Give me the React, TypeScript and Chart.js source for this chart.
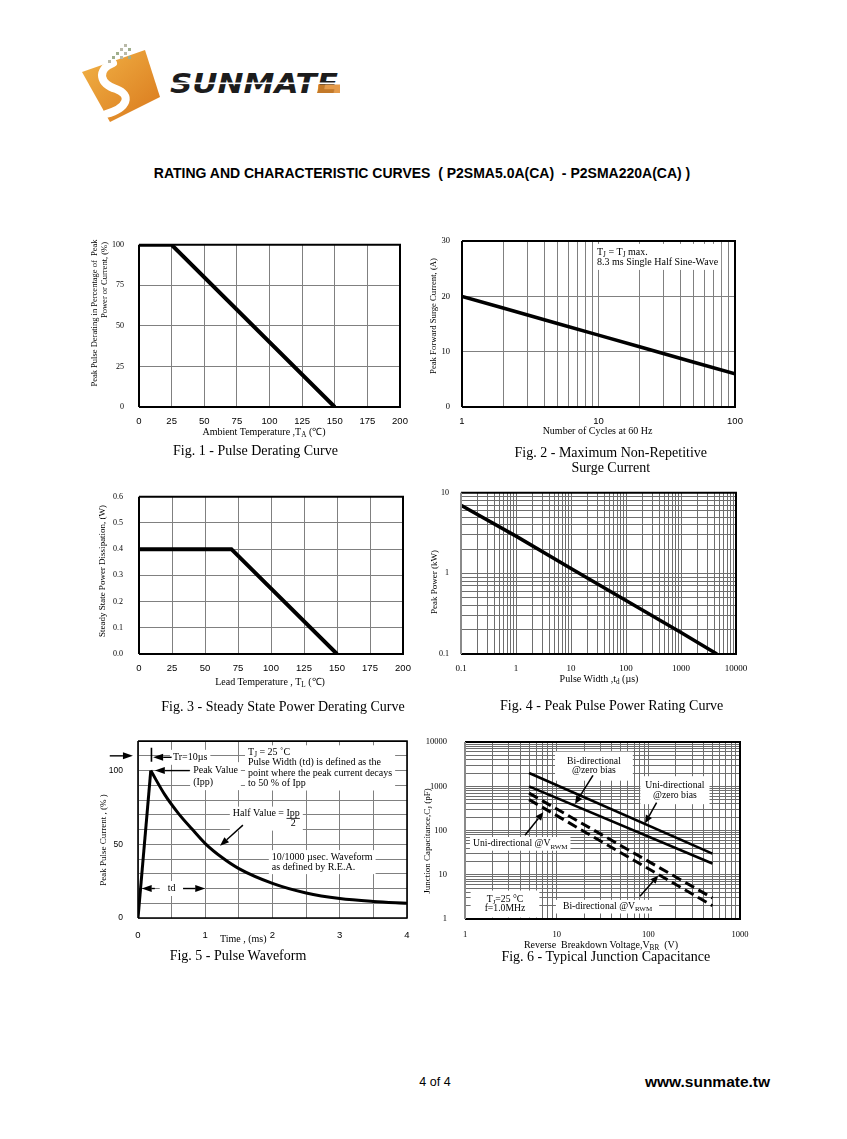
import React, { useEffect, useRef } from 'react';
import { Chart, registerables } from 'chart.js';

Chart.register(...registerables);

const SERIF = '"Liberation Serif", "Times New Roman", serif';
const SANS = '"Liberation Sans", Arial, sans-serif';

// ---------- Fig. 1 - Pulse Derating Curve ----------
const fig1Temperature = [0, 25, 150];
const fig1Derating = [100, 100, 0];
const fig1XLabels = ['0', '25', '50', '75', '100', '125', '150', '175', '200'];
const fig1YLabels = ['0', '25', '50', '75', '100'];

// ---------- Fig. 2 - Max Non-Repetitive Surge Current ----------
const fig2Cycles = [1, 2, 5, 10, 20, 50, 100];
const fig2SurgeCurrent = [20, 17.9, 15.1, 13, 10.9, 8.1, 6];
const fig2XLabels = ['1', '10', '100'];
const fig2YLabels = ['0', '10', '20', '30'];

// ---------- Fig. 3 - Steady State Power Derating ----------
const fig3LeadTemperature = [0, 70, 150];
const fig3PowerDissipation = [0.4, 0.4, 0];
const fig3XLabels = ['0', '25', '50', '75', '100', '125', '150', '175', '200'];
const fig3YLabels = ['0.0', '0.1', '0.2', '0.3', '0.4', '0.5', '0.6'];

// ---------- Fig. 4 - Peak Pulse Power Rating ----------
const fig4PulseWidth = [0.1, 1, 10, 100, 1000, 4500];
const fig4PeakPower = [7, 2.9, 1.15, 0.46, 0.185, 0.1];
const fig4XLabels = ['0.1', '1', '10', '100', '1000', '10000'];
const fig4YLabels = ['0.1', '1', '10'];

// ---------- Fig. 5 - Pulse Waveform ----------
const fig5Time = [0, 0.19, 0.4, 0.6, 0.8, 1, 1.25, 1.5, 2, 2.5, 3, 3.5, 4];
const fig5PulseCurrent = [0, 100, 83.5, 71, 60.5, 50.5, 41, 33.5, 23.5, 17, 13.2, 11.2, 10];
const fig5XLabels = ['0', '1', '2', '3', '4'];
const fig5YLabels = ['0', '50', '100'];

// ---------- Fig. 6 - Typical Junction Capacitance ----------
const fig6Voltage = [5, 500];
const fig6UniZeroBias = [2000, 30];
const fig6BiZeroBias = [1000, 18];
const fig6UniVrwm = [700, 3];
const fig6BiVrwm = [500, 2];
const fig6XLabels = ['1', '10', '100', '1000'];
const fig6YLabels = ['1', '10', '100', '1000', '10000'];

// ---------- layout constants ----------
const PAD_L = 48;
const PAD_T = 14;
const PAD_R = 28;
const PAD_B = 26;

function range(a: number, b: number, s: number): number[] {
  const n = Math.round((b - a) / s);
  return Array.from({ length: n + 1 }, (_, i) => +(a + i * s).toFixed(6));
}

function logGrid(min: number, max: number): number[] {
  const out: number[] = [];
  const e0 = Math.round(Math.log10(min));
  const e1 = Math.round(Math.log10(max));
  for (let e = e0; e < e1; e++) {
    for (let s = 1; s < 10; s++) out.push(parseFloat((s * Math.pow(10, e)).toPrecision(6)));
  }
  out.push(max);
  return out;
}

function labelFor(v: number, labels: string[]): string {
  const i = labels.findIndex((l) => Math.abs(Number(l) - v) <= Math.abs(Number(l)) * 1e-6 + 1e-9);
  return i >= 0 ? labels[i] : '';
}

type AxisSpec = {
  type: 'linear' | 'logarithmic';
  min: number;
  max: number;
  ticks: number[];
  labels: string[];
  family: string;
  size: number;
  pad: number;
  gridColor?: string;
};

function buildAxis(a: AxisSpec, isX: boolean) {
  return {
    type: a.type,
    min: a.min,
    max: a.max,
    ticks: {
      autoSkip: false,
      maxRotation: 0,
      minRotation: 0,
      padding: a.pad,
      color: '#000',
      font: { family: a.family, size: a.size },
      callback: (v: number | string) => labelFor(Number(v), a.labels),
    },
    grid: { color: a.gridColor ?? '#808080', lineWidth: 1, drawTicks: false },
    border: { display: false },
    afterBuildTicks: (s: any) => {
      s.ticks = a.ticks.map((value) => ({ value }));
    },
    afterFit: (s: any) => {
      if (isX) s.height = PAD_B;
      else s.width = PAD_L;
    },
  };
}

// ---------- rich text (subscripts) ----------
type Seg = { t: string; sub: boolean };
function parseRich(s: string): Seg[] {
  const segs: Seg[] = [];
  const re = /_\{([^}]*)\}/g;
  let last = 0;
  let m: RegExpExecArray | null;
  while ((m = re.exec(s))) {
    if (m.index > last) segs.push({ t: s.slice(last, m.index), sub: false });
    segs.push({ t: m[1], sub: true });
    last = m.index + m[0].length;
  }
  if (last < s.length) segs.push({ t: s.slice(last), sub: false });
  return segs;
}
function richWidth(ctx: CanvasRenderingContext2D, s: string, size: number, fam: string) {
  let w = 0;
  for (const seg of parseRich(s)) {
    ctx.font = `${seg.sub ? size * 0.72 : size}px ${fam}`;
    w += ctx.measureText(seg.t).width;
  }
  return w;
}
function drawRich(ctx: CanvasRenderingContext2D, s: string, x: number, y: number, size: number, fam: string) {
  ctx.textBaseline = 'middle';
  ctx.textAlign = 'left';
  let cx = x;
  for (const seg of parseRich(s)) {
    ctx.font = `${seg.sub ? size * 0.72 : size}px ${fam}`;
    ctx.fillText(seg.t, cx, seg.sub ? y + size * 0.3 : y);
    cx += ctx.measureText(seg.t).width;
  }
}

type Note = {
  x: number;
  y: number;
  lines: string[];
  align?: 'left' | 'center';
  size?: number;
  lineH?: number;
  padX?: number;
  padY?: number;
  frac?: { num: string; den: string };
};
type Arrow = { x1: number; y1: number; x2: number; y2: number; head?: number; headW?: number; w?: number };

function noteGeom(ctx: CanvasRenderingContext2D, chart: any, n: Note) {
  const size = n.size ?? 9;
  const fam = SERIF;
  const lh = n.lineH ?? size * 1.1;
  const px = chart.scales.x.getPixelForValue(n.x);
  const py = chart.scales.y.getPixelForValue(n.y);
  const widths = n.lines.map((l) => richWidth(ctx, l, size, fam));
  let nLines = n.lines.length;
  let total = Math.max(...widths);
  if (n.frac) {
    total = Math.max(total, widths[0] + richWidth(ctx, n.frac.num, size, fam));
    nLines = Math.max(nLines, 2);
  }
  const left = n.align === 'center' ? px - total / 2 : px;
  const top = py - lh / 2;
  const padX = n.padX ?? 3;
  const padY = n.padY ?? 2;
  return { px, py, size, fam, lh, widths, box: { x: left - padX, y: top - padY, w: total + 2 * padX, h: nLines * lh + 2 * padY } };
}

function drawArrow(ctx: CanvasRenderingContext2D, x1: number, y1: number, x2: number, y2: number, head: number, headW: number, w: number) {
  ctx.lineWidth = w;
  ctx.strokeStyle = '#000';
  ctx.fillStyle = '#000';
  const ang = Math.atan2(y2 - y1, x2 - x1);
  const bx = x2 - Math.cos(ang) * head;
  const by = y2 - Math.sin(ang) * head;
  ctx.beginPath();
  ctx.moveTo(x1, y1);
  ctx.lineTo(head > 0 ? bx : x2, head > 0 ? by : y2);
  ctx.stroke();
  if (head > 0) {
    ctx.beginPath();
    ctx.moveTo(x2, y2);
    ctx.lineTo(bx + Math.sin(ang) * headW, by - Math.cos(ang) * headW);
    ctx.lineTo(bx - Math.sin(ang) * headW, by + Math.cos(ang) * headW);
    ctx.closePath();
    ctx.fill();
  }
}

function makeDecor(cfg: { frameW: number; leftColor?: string; notes?: Note[]; arrows?: Arrow[] }) {
  return {
    id: 'decor',
    beforeDatasetsDraw(chart: any) {
      const ctx = chart.ctx as CanvasRenderingContext2D;
      ctx.save();
      for (const n of cfg.notes ?? []) {
        const g = noteGeom(ctx, chart, n);
        ctx.fillStyle = '#fff';
        ctx.fillRect(g.box.x, g.box.y, g.box.w, g.box.h);
      }
      ctx.restore();
    },
    afterDatasetsDraw(chart: any) {
      const ctx = chart.ctx as CanvasRenderingContext2D;
      const { left, top, right, bottom } = chart.chartArea;
      ctx.save();
      ctx.lineWidth = cfg.frameW;
      ctx.strokeStyle = '#000';
      ctx.beginPath();
      ctx.moveTo(left, top);
      ctx.lineTo(right, top);
      ctx.lineTo(right, bottom);
      ctx.lineTo(left, bottom);
      ctx.stroke();
      ctx.strokeStyle = cfg.leftColor ?? '#000';
      ctx.beginPath();
      ctx.moveTo(left, bottom);
      ctx.lineTo(left, top);
      ctx.stroke();
      const xs = chart.scales.x;
      const ys = chart.scales.y;
      for (const a of cfg.arrows ?? []) {
        drawArrow(
          ctx,
          xs.getPixelForValue(a.x1),
          ys.getPixelForValue(a.y1),
          xs.getPixelForValue(a.x2),
          ys.getPixelForValue(a.y2),
          a.head ?? 8,
          a.headW ?? 3.5,
          a.w ?? 1.5
        );
      }
      ctx.fillStyle = '#000';
      for (const n of cfg.notes ?? []) {
        const g = noteGeom(ctx, chart, n);
        n.lines.forEach((l, i) => {
          const x = n.align === 'center' ? g.px - g.widths[i] / 2 : g.px;
          drawRich(ctx, l, x, g.py + i * g.lh, g.size, g.fam);
        });
        if (n.frac) {
          const nx = g.px + g.widths[0];
          const nw = richWidth(ctx, n.frac.num, g.size, g.fam);
          drawRich(ctx, n.frac.num, nx, g.py, g.size, g.fam);
          ctx.lineWidth = 0.8;
          ctx.strokeStyle = '#000';
          ctx.beginPath();
          ctx.moveTo(nx, g.py + g.size * 0.48);
          ctx.lineTo(nx + nw, g.py + g.size * 0.48);
          ctx.stroke();
          const dw = richWidth(ctx, n.frac.den, g.size, g.fam);
          drawRich(ctx, n.frac.den, nx + nw / 2 - dw / 2, g.py + g.lh, g.size, g.fam);
        }
      }
      ctx.restore();
    },
  };
}

function series(xs: number[], ys: number[], w: number, extra: any = {}) {
  return {
    data: xs.map((x, i) => ({ x, y: ys[i] })),
    borderColor: '#000',
    backgroundColor: '#000',
    borderWidth: w,
    pointRadius: 0,
    fill: false,
    tension: 0,
    borderCapStyle: 'butt',
    ...extra,
  };
}

function makeConfig(datasets: any[], x: AxisSpec, y: AxisSpec, decor: any) {
  return {
    type: 'line',
    data: { datasets },
    options: {
      animation: false,
      responsive: false,
      events: [],
      layout: { padding: { left: 0, top: PAD_T, right: PAD_R, bottom: 0 } },
      plugins: { legend: { display: false }, tooltip: { enabled: false }, title: { display: false } },
      scales: { x: buildAxis(x, true), y: buildAxis(y, false) },
    },
    plugins: [decor],
  };
}

type PlotSpec = { L: number; T: number; R: number; B: number; build: () => any };

const PLOTS: PlotSpec[] = [
  {
    L: 139, T: 239, R: 400, B: 407,
    build: () =>
      makeConfig(
        [series(fig1Temperature, fig1Derating, 4)],
        { type: 'linear', min: 0, max: 200, ticks: range(0, 200, 25), labels: fig1XLabels, family: SANS, size: 9.5, pad: 9 },
        { type: 'linear', min: 0, max: 100, ticks: range(0, 100, 25), labels: fig1YLabels, family: SERIF, size: 8, pad: 15 },
        makeDecor({ frameW: 2 })
      ),
  },
  {
    L: 462, T: 238, R: 735, B: 407,
    build: () =>
      makeConfig(
        [series(fig2Cycles, fig2SurgeCurrent, 3.5)],
        { type: 'logarithmic', min: 1, max: 100, ticks: logGrid(1, 100), labels: fig2XLabels, family: SANS, size: 9.5, pad: 9 },
        { type: 'linear', min: 0, max: 30, ticks: range(0, 30, 10), labels: fig2YLabels, family: SERIF, size: 8.5, pad: 12 },
        makeDecor({
          frameW: 2,
          notes: [{ x: 9.75, y: 28.05, lines: ['T_{J} = T_{J} max.', '8.3 ms Single Half Sine-Wave'], size: 10, lineH: 10, padX: 3, padY: 3 }],
        })
      ),
  },
  {
    L: 139, T: 490, R: 403, B: 654,
    build: () =>
      makeConfig(
        [series(fig3LeadTemperature, fig3PowerDissipation, 4)],
        { type: 'linear', min: 0, max: 200, ticks: range(0, 200, 25), labels: fig3XLabels, family: SANS, size: 9.5, pad: 9 },
        { type: 'linear', min: 0, max: 0.6, ticks: range(0, 0.6, 0.1), labels: fig3YLabels, family: SERIF, size: 8, pad: 16 },
        makeDecor({ frameW: 2 })
      ),
  },
  {
    L: 461, T: 490, R: 736, B: 654,
    build: () =>
      makeConfig(
        [series(fig4PulseWidth, fig4PeakPower, 3.5)],
        { type: 'logarithmic', min: 0.1, max: 10000, ticks: logGrid(0.1, 10000), labels: fig4XLabels, family: SERIF, size: 9, pad: 9, gridColor: '#6e6e6e' },
        { type: 'logarithmic', min: 0.1, max: 10, ticks: logGrid(0.1, 10), labels: fig4YLabels, family: SERIF, size: 8, pad: 12, gridColor: '#6e6e6e' },
        makeDecor({ frameW: 2, leftColor: '#8a8a8a' })
      ),
  },
  {
    L: 138, T: 735, R: 407, B: 918,
    build: () =>
      makeConfig(
        [
          series(fig5Time.slice(0, 2), fig5PulseCurrent.slice(0, 2), 3),
          series(fig5Time.slice(1), fig5PulseCurrent.slice(1), 3, { cubicInterpolationMode: 'monotone' }),
        ],
        { type: 'linear', min: 0, max: 4, ticks: range(0, 4, 0.5), labels: fig5XLabels, family: SANS, size: 9.5, pad: 12 },
        { type: 'linear', min: 0, max: 120, ticks: range(0, 120, 10), labels: fig5YLabels, family: SANS, size: 8.5, pad: 15 },
        makeDecor({
          frameW: 1.6,
          notes: [
            { x: 0.52, y: 109, lines: ['Tr=10µs'], size: 10, padX: 3, padY: 2 },
            {
              x: 1.636, y: 112.3, size: 10, lineH: 10.3, padX: 3, padY: 2,
              lines: ['T_{J} = 25 ˚C', 'Pulse Width (td) is defined as the', 'point where the peak current decays', 'to 50 % of Ipp'],
            },
            { x: 0.82, y: 100.3, lines: ['Peak Value', '(Ipp)'], size: 10, lineH: 12, padX: 3, padY: 2 },
            { x: 1.41, y: 70.8, lines: ['Half Value = '], frac: { num: 'Ipp', den: '2' }, size: 10, lineH: 10, padX: 3, padY: 2 },
            { x: 1.99, y: 41.3, lines: ['10/1000 µsec. Waveform', 'as defined by R.E.A.'], size: 10, lineH: 10, padX: 3, padY: 2 },
            { x: 0.5, y: 20, lines: ['td'], align: 'center', size: 10, padX: 8, padY: 2 },
          ],
          arrows: [
            { x1: -0.42, y1: 110, x2: -0.075, y2: 110, head: 10, headW: 3.5, w: 1.4 },
            { x1: 0.2, y1: 106, x2: 0.2, y2: 115.5, head: 0, w: 1.6 },
            { x1: 0.5, y1: 109, x2: 0.225, y2: 109, head: 10, headW: 3.5, w: 1.4 },
            { x1: 0.77, y1: 100, x2: 0.25, y2: 100, head: 10, headW: 3.5, w: 1.4 },
            { x1: 1.56, y1: 63, x2: 1.22, y2: 49, head: 9, headW: 3.5, w: 1.4 },
            { x1: 0.25, y1: 20, x2: 0.055, y2: 20, head: 10, headW: 3.5, w: 1.4 },
            { x1: 0.67, y1: 20, x2: 1.0, y2: 20, head: 10, headW: 3.5, w: 1.4 },
          ],
        })
      ),
  },
  {
    L: 465, T: 733, R: 740, B: 919,
    build: () =>
      makeConfig(
        [
          series(fig6Voltage, fig6UniZeroBias, 2.5),
          series(fig6Voltage, fig6BiZeroBias, 2.5),
          series(fig6Voltage, fig6UniVrwm, 3, { borderDash: [10, 5] }),
          series(fig6Voltage, fig6BiVrwm, 3, { borderDash: [10, 5] }),
        ],
        { type: 'logarithmic', min: 1, max: 1000, ticks: logGrid(1, 1000), labels: fig6XLabels, family: SERIF, size: 8.5, pad: 11, gridColor: '#6e6e6e' },
        { type: 'logarithmic', min: 1, max: 10000, ticks: logGrid(1, 10000), labels: fig6YLabels, family: SERIF, size: 8.5, pad: 18, gridColor: '#6e6e6e' },
        makeDecor({
          frameW: 2,
          leftColor: '#8a8a8a',
          notes: [
            { x: 25.5, y: 3656, lines: ['Bi-directional', '@zero bias'], align: 'center', size: 9.7, lineH: 9.5, padX: 12, padY: 5 },
            { x: 195, y: 1061, lines: ['Uni-directional', '@zero bias'], align: 'center', size: 9.7, lineH: 10, padX: 5, padY: 4 },
            { x: 1.22, y: 50, lines: ['Uni-directional @V_{RWM}'], size: 9.7, padX: 3, padY: 1.5 },
            { x: 11.7, y: 1.9, lines: ['Bi-directional @V_{RWM}'], size: 9.7, padX: 7, padY: 1.5 },
            { x: 2.73, y: 2.79, lines: ['T_{J}=25 °C', 'f=1.0MHz'], align: 'center', size: 9.7, lineH: 9.5, padX: 14, padY: 4 },
          ],
          arrows: [
            { x1: 24.9, y1: 1766, x2: 15.85, y2: 400 },
            { x1: 123, y1: 427, x2: 92, y2: 146 },
            { x1: 4.51, y1: 78, x2: 7.15, y2: 260 },
            { x1: 81, y1: 3.28, x2: 128.5, y2: 9.6 },
          ],
        })
      ),
  },
];

function Plot({ spec }: { spec: PlotSpec }) {
  const ref = useRef<HTMLCanvasElement>(null);
  const left = spec.L - PAD_L;
  const top = spec.T - PAD_T;
  const w = spec.R + PAD_R - left;
  const h = spec.B + PAD_B - top;
  useEffect(() => {
    const chart = new Chart(ref.current as HTMLCanvasElement, spec.build());
    return () => chart.destroy();
  }, []);
  return <canvas ref={ref} width={w} height={h} style={{ position: 'absolute', left, top, width: w, height: h }} />;
}

function Label(props: { x: number; y: number; size: number; family?: string; bold?: boolean; rotate?: boolean; children: any }) {
  return (
    <div
      style={{
        position: 'absolute',
        left: props.x,
        top: props.y,
        transform: `translate(-50%, -50%)${props.rotate ? ' rotate(-90deg)' : ''}`,
        fontSize: props.size,
        fontFamily: props.family ?? SERIF,
        fontWeight: props.bold ? 700 : 400,
        whiteSpace: 'pre',
        lineHeight: 1,
        color: '#000',
      }}
    >
      {props.children}
    </div>
  );
}

function Sub({ children }: { children: any }) {
  return <span style={{ fontSize: '0.72em', position: 'relative', top: '0.3em' }}>{children}</span>;
}

function Logo() {
  const dots = [
    [124, 44], [128, 48], [120, 48], [116, 52], [124, 52], [112, 56], [120, 56], [128, 56], [108, 60],
  ];
  return (
    <svg style={{ position: 'absolute', left: 0, top: 0 }} width={400} height={140}>
      <defs>
        <linearGradient id="lgo" x1="0" y1="0" x2="1" y2="1">
          <stop offset="0" stopColor="#f2b447" />
          <stop offset="1" stopColor="#d9781c" />
        </linearGradient>
      </defs>
      <polygon points="82,72 145,50 160,97 110,122" fill="url(#lgo)" />
      <path d="M 113 63 C 96 70, 100 84, 116 89 C 132 95, 128 108, 106 114" stroke="#fff" strokeWidth={8} fill="none" strokeLinecap="round" />
      {dots.map(([x, y], i) => (
        <rect key={i} x={x} y={y} width={3} height={3} fill={i % 2 ? '#9fae8c' : '#b9b9a8'} />
      ))}
      <text x={170} y={93} fontFamily="DejaVu Sans" fontWeight="bold" fontStyle="italic" fontSize={26} textLength={168} lengthAdjust="spacingAndGlyphs" fill="#1c1c1c">
        SUNMATE
      </text>
      <rect x={166} y={82.5} width={176} height={1.6} fill="#fff" />
      <rect x={318} y={84.5} width={22} height={8.5} fill="#e08a2c" opacity={0.85} />
    </svg>
  );
}

export default function App() {
  return (
    <div style={{ position: 'absolute', left: 0, top: 0, width: 847, height: 1139, background: '#fff', overflow: 'hidden' }}>
      <Logo />
      <Label x={422} y={173} size={14} family={SANS} bold>
        {'RATING AND CHARACTERISTIC CURVES  ( P2SMA5.0A(CA)  - P2SMA220A(CA) )'}
      </Label>

      {PLOTS.map((p, i) => (
        <Plot key={i} spec={p} />
      ))}

      {/* Fig 1 */}
      <Label x={93.5} y={313} size={8.5} rotate>{'Peak Pulse Derating in Percentage of  Peak'}</Label>
      <Label x={104} y={280} size={8.5} rotate>{'Power or Current, (%)'}</Label>
      <Label x={264} y={432.3} size={10}>
        Ambient Temperature ,T<Sub>A</Sub> (℃)
      </Label>
      <Label x={255.5} y={451} size={14}>Fig. 1 - Pulse Derating Curve</Label>

      {/* Fig 2 */}
      <Label x={432.7} y={315.5} size={8.7} rotate>{'Peak Forward Surge Current, (A)'}</Label>
      <Label x={597.5} y={430.7} size={10}>Number of Cycles at 60 Hz</Label>
      <Label x={610.8} y={453.3} size={14}>Fig. 2 - Maximum Non-Repetitive</Label>
      <Label x={610.8} y={467.7} size={14}>Surge Current</Label>

      {/* Fig 3 */}
      <Label x={101.7} y={571} size={9} rotate>{'Steady State Power Dissipation, (W)'}</Label>
      <Label x={270} y={681.7} size={10}>
        {'Lead Temperature , T'}<Sub>L</Sub>{' (℃)'}
      </Label>
      <Label x={283} y={706.7} size={14}>Fig. 3 - Steady State Power Derating Curve</Label>

      {/* Fig 4 */}
      <Label x={434} y={582} size={9} rotate>{'Peak Power (kW)'}</Label>
      <Label x={599} y={679} size={10}>
        {'Pulse Width ,t'}<Sub>d</Sub>{' (µs)'}
      </Label>
      <Label x={611.7} y={705.7} size={14}>Fig. 4 - Peak Pulse Power Rating Curve</Label>

      {/* Fig 5 */}
      <Label x={103.3} y={840} size={9} rotate>{'Peak Pulse Current , (% )'}</Label>
      <Label x={243.3} y={939.3} size={10}>{'Time , (ms)'}</Label>
      <Label x={238} y={955.7} size={14}>Fig. 5 - Pulse Waveform</Label>

      {/* Fig 6 */}
      <Label x={427.3} y={841} size={9} rotate>
        {'Junction Capacitance,C'}<Sub>J</Sub>{' (pF)'}
      </Label>
      <Label x={601} y={945} size={10}>
        {'Reverse  Breakdown Voltage,V'}<Sub>BR</Sub>{'  (V)'}
      </Label>
      <Label x={605.8} y={956.7} size={14}>Fig. 6 - Typical Junction Capacitance</Label>

      {/* footer */}
      <Label x={435} y={1082} size={12.5} family={SANS}>4 of 4</Label>
      <Label x={707.5} y={1082} size={15.5} family={SANS} bold>www.sunmate.tw</Label>
    </div>
  );
}
